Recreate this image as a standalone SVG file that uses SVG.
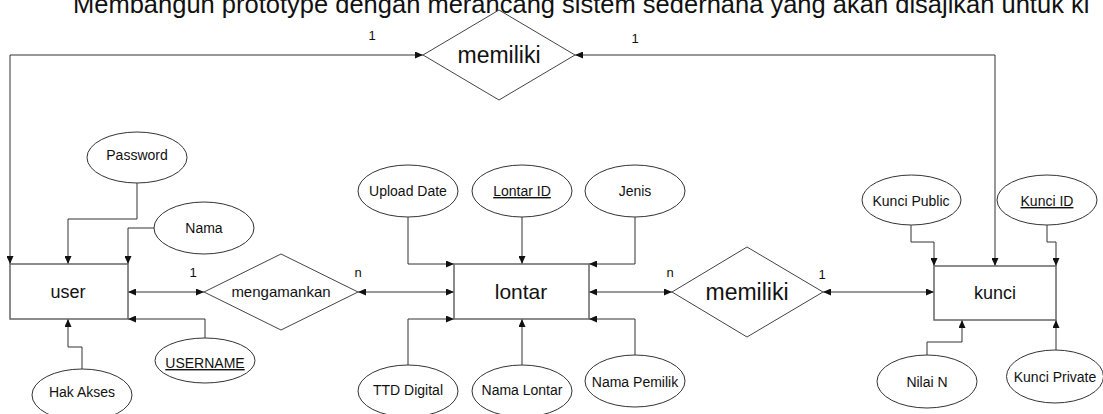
<svg xmlns="http://www.w3.org/2000/svg" width="1103" height="414" viewBox="0 0 1103 414">
<defs>
<marker id="arr" viewBox="0 0 8 7" refX="8" refY="3.5" markerWidth="8" markerHeight="7" markerUnits="userSpaceOnUse" orient="auto-start-reverse">
<path d="M0,0 L8,3.5 L0,7 z" fill="#111"/>
</marker>
<style>
text{font-family:"Liberation Sans",Arial,sans-serif;fill:#111;text-anchor:middle}
.ent{fill:#fff;stroke:#666;stroke-width:1.5}
.rel{fill:#fff;stroke:#444;stroke-width:1}
.att{fill:#fff;stroke:#333;stroke-width:1}
.con{fill:none;stroke:#333;stroke-width:1;marker-end:url(#arr)}
.both{marker-start:url(#arr)}
.a{font-size:14px}
.lbl{font-size:13px}
</style>
</defs>
<rect width="1103" height="414" fill="#fff"/>
<text x="73" y="13" style="font-size:25.5px;text-anchor:start">Membangun prototype dengan merancang sistem sederhana yang akan disajikan untuk ki</text>

<g id="connectors">
<path class="con both" d="M10,264 V55 H423"/>
<path class="con both" d="M995,266 V55 H575"/>
<path class="con" d="M137,183 V219 H68 V264"/>
<path class="con" d="M154,228 H128 V264"/>
<path class="con" d="M205,338 V319 H128"/>
<path class="con" d="M82,369 V347 H68 V319"/>
<path class="con both" d="M128,292 H204"/>
<path class="con both" d="M358,292 H454"/>
<path class="con" d="M408,217 V264 H454"/>
<path class="con" d="M522,217 V264"/>
<path class="con" d="M635,217 V264 H589"/>
<path class="con" d="M408,365 V319 H454"/>
<path class="con" d="M522,365 V319"/>
<path class="con" d="M635,355 V319 H589"/>
<path class="con both" d="M589,292 H672"/>
<path class="con both" d="M823,292 H934"/>
<path class="con" d="M911,225 V242 H934 V266"/>
<path class="con" d="M1047,225 V242 H1056 V266"/>
<path class="con" d="M927,355 V342 H962 V320"/>
<path class="con" d="M1056,350 V320"/>
<text class="lbl" x="372" y="40">1</text>
<text class="lbl" x="635" y="43">1</text>
<text class="lbl" x="193" y="277">1</text>
<text class="lbl" x="358" y="277">n</text>
<text class="lbl" x="670" y="277">n</text>
<text class="lbl" x="822" y="279">1</text>
</g>

<g id="rel-memiliki-top">
<polygon class="rel" points="499,10 575,55 499,100 423,55"/>
<text x="499" y="63" style="font-size:23px">memiliki</text>
</g>
<g id="rel-mengamankan">
<polygon class="rel" points="281,254 358,292 281,330 204,292"/>
<text x="281" y="297" style="font-size:15px">mengamankan</text>
</g>
<g id="rel-memiliki">
<polygon class="rel" points="747,247 823,292 747,337 672,292"/>
<text x="747" y="300" style="font-size:23px">memiliki</text>
</g>

<g id="ent-user">
<rect class="ent" x="10" y="264" width="118" height="55"/>
<text x="68" y="298" style="font-size:18px">user</text>
</g>
<g id="ent-lontar">
<rect class="ent" x="454" y="264" width="135" height="55"/>
<text x="521" y="299" style="font-size:21px">lontar</text>
</g>
<g id="ent-kunci">
<rect class="ent" x="934" y="266" width="122" height="54"/>
<text x="995" y="299" style="font-size:18px">kunci</text>
</g>

<g id="att-password"><ellipse class="att" cx="137" cy="157.5" rx="50" ry="25.5"/><text class="a" x="137" y="160">Password</text></g>
<g id="att-nama"><ellipse class="att" cx="204" cy="228" rx="50" ry="26"/><text class="a" x="204" y="233">Nama</text></g>
<g id="att-username"><ellipse class="att" cx="205" cy="360.5" rx="50" ry="22.5"/><text class="a" x="205" y="368" text-decoration="underline">USERNAME</text></g>
<g id="att-hakakses"><ellipse class="att" cx="82" cy="395" rx="50" ry="26"/><text class="a" x="82" y="397">Hak Akses</text></g>

<g id="att-uploaddate"><ellipse class="att" cx="408" cy="191" rx="50" ry="26"/><text class="a" x="408" y="196">Upload Date</text></g>
<g id="att-lontarid"><ellipse class="att" cx="522" cy="191" rx="50" ry="26"/><text class="a" x="522" y="196" text-decoration="underline">Lontar ID</text></g>
<g id="att-jenis"><ellipse class="att" cx="635" cy="191" rx="50" ry="26"/><text class="a" x="635" y="196">Jenis</text></g>
<g id="att-ttd"><ellipse class="att" cx="408" cy="391" rx="50" ry="26"/><text class="a" x="408" y="395">TTD Digital</text></g>
<g id="att-namalontar"><ellipse class="att" cx="522" cy="391" rx="50" ry="26"/><text class="a" x="522" y="395">Nama Lontar</text></g>
<g id="att-namapemilik"><ellipse class="att" cx="635" cy="381" rx="50" ry="26"/><text class="a" x="635" y="387">Nama Pemilik</text></g>

<g id="att-kuncipublic"><ellipse class="att" cx="911.5" cy="200" rx="49.5" ry="25"/><text class="a" x="911" y="206">Kunci Public</text></g>
<g id="att-kunciid"><ellipse class="att" cx="1047" cy="200" rx="50" ry="25"/><text class="a" x="1047" y="206" text-decoration="underline">Kunci ID</text></g>
<g id="att-nilain"><ellipse class="att" cx="927" cy="381.5" rx="50" ry="26.5"/><text class="a" x="927" y="387">Nilai N</text></g>
<g id="att-kunciprivate"><ellipse class="att" cx="1055" cy="376.5" rx="48.5" ry="26.5"/><text class="a" x="1055" y="382">Kunci Private</text></g>
</svg>
